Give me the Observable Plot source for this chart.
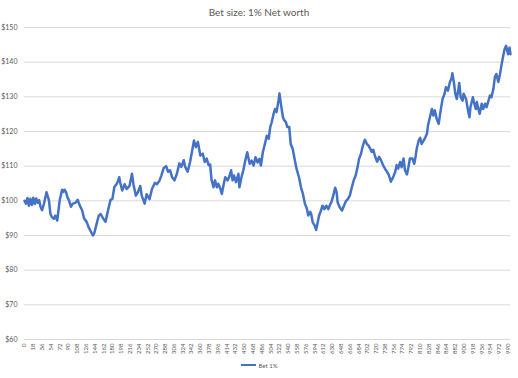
<!DOCTYPE html>
<html><head><meta charset="utf-8">
<script src="https://cdn.jsdelivr.net/npm/d3@7"></script>
<script src="https://cdn.jsdelivr.net/npm/@observablehq/plot@0.6"></script>
<style>
body{margin:0;background:#fff;font-family:Lato,"Open Sans",sans-serif;width:518px;height:378px;overflow:hidden;}
#title{height:22px;line-height:24px;text-align:center;font-size:10px;color:#595959;}
#chart svg{display:block;}
#legend{height:16px;display:flex;justify-content:center;align-items:center;font-size:6px;color:#595959;}
#legend .sw{display:inline-block;width:15px;height:2.5px;background:#4472C4;margin-right:3px;}
</style></head><body>
<div id="title">Bet size: 1% Net worth</div>
<div id="chart"></div>
<div id="legend"><span class="sw"></span><span>Bet 1%</span></div>
<script>
const seriesName = "Bet 1%";
const steps = [0,3,6,9,12,15,18,21,24,27,30,33,36,40,45,50,53,56,60,63,67,72,77,80,82,85,88,91,95,99,104,109,113,118,122,127,131,136,140,143,147,152,156,161,166,170,176,180,184,189,191,194,196,200,205,209,215,220,223,228,232,237,240,246,250,256,261,267,271,276,280,285,290,294,298,302,307,312,317,321,326,329,334,339,344,347,351,355,360,365,369,373,377,380,383,387,390,394,397,401,404,408,411,416,420,423,426,429,433,438,440,445,448,452,456,461,465,469,473,477,481,484,488,493,496,500,503,506,510,513,516,520,522,525,529,532,535,538,542,545,549,553,557,562,566,570,574,578,581,585,587,590,594,597,599,603,607,610,614,618,622,626,629,633,636,639,641,645,650,654,658,662,666,670,674,678,682,685,689,692,695,697,701,704,708,711,714,718,722,726,730,734,738,742,746,750,755,759,762,765,769,772,776,779,783,786,789,794,798,801,803,807,810,813,817,821,824,826,830,834,837,840,844,848,852,856,860,863,867,871,874,876,879,882,885,888,890,893,897,899,904,908,911,913,918,920,924,926,930,932,936,939,943,946,950,953,956,960,963,966,970,973,977,980,983,986,990,993,995];
const values = [100,99.2,100.8,98.6,100.6,98.8,100.9,99.1,100.7,99.4,100.2,98.2,97.3,99.2,102.5,100.2,96.3,95.3,94.8,95.7,94.3,100.1,103.2,102.6,103.2,102.5,101,100.2,98.3,99.2,99.4,100.3,98.7,97.3,94.9,94.0,92.5,91.1,90.0,90.7,93.0,95.7,96.2,94.9,94.0,96.6,100.2,100.6,104,104.9,105.6,106.8,105.2,103,104.8,103.4,104.3,107.8,104.8,101.5,102.4,104.3,101.5,99.2,101.9,100.5,103.4,105.2,104.8,105.7,107.2,109.5,110,108.4,108.8,106.9,105.9,107.8,110.8,109.8,111.7,109.8,108.4,111.2,115,117.4,115.5,117,113.1,113.6,111.2,112.2,110.3,110.5,106,103.9,105.9,103.9,104.9,103.5,102,104.9,106.8,105.9,107.3,108.8,105.9,107.3,105.4,107.8,103.9,107.3,108.8,111.6,114,110.7,111.6,110.2,112.6,111.1,112.1,110.2,114,116.9,118.8,117.9,121.2,122.6,125.1,126.5,125.6,128.9,131,127.9,124.2,123.2,122.8,121.3,121.3,116.4,115,112.1,109.2,106.8,103.9,102,99.2,97.8,95.8,96.8,96.2,93.8,92.9,91.6,92.9,95.7,97.2,98.6,97.6,98.6,97.6,99.0,99.9,102,103.8,102.5,99.6,98.2,97.2,98.6,99.9,100.5,101.5,103.8,105.9,107.3,109.8,112.1,113.6,115.5,116.9,117.6,116.4,116,115,114.1,114.7,112.7,111.3,112.7,111.7,110.3,109.3,108.4,107.4,105.5,106.9,108.4,110.3,109.3,111.2,109.7,112.2,108.8,107.6,109.7,112.2,112.2,110.7,113.1,115,117.4,118.2,116.4,117.4,118.4,119.4,121.7,124.1,126.5,124.6,126.1,123.6,122.2,126.1,129.4,130.9,132.8,131.8,134.3,135.2,136.8,134.3,130.9,129.4,131.8,134,129.9,128.9,130.9,129.4,126.1,124.1,127,129.9,128.5,126.5,128.5,126.1,125.1,128,126.5,128,127,128.9,130.4,129.9,132.3,135.7,136.6,134.3,136.2,139.5,141.8,143.8,144.7,142.3,144.2,142.3];
const xTicks = d3.range(0, 991, 18);
const yTicks = [60,70,80,90,100,110,120,130,140,150];

const data = steps.map((s, i) => ({step: s, value: values[i], series: seriesName}));

const chart = Plot.plot({
  width: 518, height: 335,
  marginTop: 5, marginBottom: 18, marginLeft: 24, marginRight: 8,
  style: {fontFamily: "Lato, 'Open Sans', sans-serif", background: "#fff", color: "#595959"},
  x: {domain: [0, 995]},
  y: {domain: [60, 150]},
  marks: [
    Plot.gridY(yTicks, {stroke: "#d9d9d9", strokeOpacity: 1, strokeWidth: 1}),
    Plot.axisY(yTicks, {tickSize: 0, tickPadding: 7, tickFormat: d => "$" + d, fontSize: 7, fill: "#595959", label: null}),
    Plot.axisX(xTicks, {tickSize: 0, tickPadding: 4, tickRotate: -90, fontSize: 6, fill: "#595959", label: null}),
    Plot.lineY(data, {x: "step", y: "value", stroke: "#4472C4", strokeWidth: 2.5, strokeLinejoin: "round"})
  ]
});
document.getElementById("chart").appendChild(chart);
</script>
</body></html>
